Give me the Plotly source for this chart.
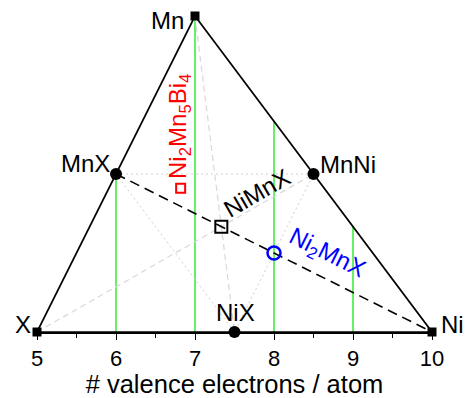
import plotly.graph_objects as go

# vertices: valence electron count (x) and Mn fraction (y)
vert_names = ["X", "Mn", "Ni"]
vert_x = [5, 7, 10]
vert_y = [0, 1, 0]

# binary compounds (edge midpoints)
bin_names = ["MnX", "MnNi", "NiX"]
bin_x = [6, 8.5, 7.5]
bin_y = [0.5, 0.5, 0]

# ternary compounds
tern_x = [22 / 3]          # NiMnX
tern_y = [1 / 3]
heusler_x = [8.0]          # Ni2MnX
heusler_y = [0.25]
nmb_x = [75 / 11]          # Ni2Mn5Bi4
nmb_y = [5 / 11]

# green vertical guides at integer electron counts
guide_x = [6, 7, 8, 9]
guide_top = [0.5, 1.0, 2 / 3, 1 / 3]

FONT = "Liberation Sans, Arial, Helvetica, sans-serif"
fig = go.Figure()

# green guides
for gx, gt in zip(guide_x, guide_top):
    fig.add_trace(go.Scatter(x=[gx, gx], y=[0, gt], mode="lines",
                             line=dict(color="#00e600", width=1.2), cliponaxis=False,
                             hoverinfo="skip"))

# medial triangle (dotted)
fig.add_trace(go.Scatter(x=[bin_x[0], bin_x[1], bin_x[2], bin_x[0]],
                         y=[bin_y[0], bin_y[1], bin_y[2], bin_y[0]], mode="lines",
                         line=dict(color="#d0d0d0", width=1, dash="2px,3px"), cliponaxis=False))
# gray dashed medians
fig.add_trace(go.Scatter(x=[vert_x[0], bin_x[1]], y=[vert_y[0], bin_y[1]], mode="lines",
                         line=dict(color="#d8d8d8", width=1.2, dash="6px,4px"), cliponaxis=False))
fig.add_trace(go.Scatter(x=[vert_x[1], bin_x[2]], y=[vert_y[1], bin_y[2]], mode="lines",
                         line=dict(color="#d8d8d8", width=1.2, dash="6px,4px"), cliponaxis=False))
# black dashed median MnX -> Ni
fig.add_trace(go.Scatter(x=[bin_x[0], vert_x[2]], y=[bin_y[0], vert_y[2]], mode="lines",
                         line=dict(color="black", width=1.6, dash="10px,6px"), cliponaxis=False))
# triangle edges
fig.add_trace(go.Scatter(x=vert_x + [vert_x[0]], y=vert_y + [vert_y[0]], mode="lines",
                         line=dict(color="black", width=1.7), cliponaxis=False))

# markers
fig.add_trace(go.Scatter(x=vert_x, y=vert_y, mode="markers",
                         marker=dict(symbol="square", size=9, color="black"), cliponaxis=False))
fig.add_trace(go.Scatter(x=bin_x, y=bin_y, mode="markers",
                         marker=dict(symbol="circle", size=12, color="black"), cliponaxis=False))
fig.add_trace(go.Scatter(x=tern_x, y=tern_y, mode="markers",
                         marker=dict(symbol="square-open", size=12, color="black",
                                     line=dict(width=2)), cliponaxis=False))
fig.add_trace(go.Scatter(x=heusler_x, y=heusler_y, mode="markers",
                         marker=dict(symbol="circle-open", size=13, color="blue",
                                     line=dict(width=2.5)), cliponaxis=False))
fig.add_trace(go.Scatter(x=nmb_x, y=nmb_y, mode="markers",
                         marker=dict(symbol="square-open", size=9, color="red",
                                     line=dict(width=2)), cliponaxis=False))

# labels: text, x, y, angle, colour, xanchor, xshift, yshift
labels = [
    ("Mn", 6.65, 0.987, 0, "black", "center", 0, 0),
    ("X", 5, 0, 0, "black", "right", -4, 8),
    ("Ni", 10, 0, 0, "black", "left", 7, 8),
    ("MnX", 5.61, 0.532, 0, "black", "center", 0, 0),
    ("MnNi", 8.94, 0.53, 0, "black", "center", 0, 0),
    ("NiX", 7.51, 0.063, 0, "black", "center", 0, 0),
    ("NiMnX", 7.79, 0.44, -30, "black", "center", 0, 0),
    ("Ni<sub>2</sub>MnX", 8.66, 0.247, 26.6, "blue", "center", 0, 0),
    ("Ni<sub>2</sub>Mn<sub>5</sub>Bi<sub>4</sub>", 6.81, 0.652, -90, "red", "center", 0, 0),
]
for txt, lx, ly, ang, col, xa, xs, ys in labels:
    fig.add_annotation(x=lx, y=ly, text=txt, showarrow=False, textangle=ang,
                       font=dict(family=FONT, size=24, color=col),
                       xanchor=xa, yanchor="middle", xshift=xs, yshift=ys)

fig.update_layout(
    width=466, height=398, showlegend=False,
    paper_bgcolor="white", plot_bgcolor="white",
    margin=dict(l=37, r=34, t=16, b=66, autoexpand=False),
    font=dict(family=FONT, color="black"),
    xaxis=dict(range=[5, 10], showgrid=False, zeroline=False, showline=True,
               automargin=False,
               linecolor="black", linewidth=1.5, ticks="outside", ticklen=6,
               tickwidth=1.3, tickcolor="black", dtick=1,
               tickfont=dict(size=22, family=FONT),
               minor=dict(dtick=0.5, ticks="outside", ticklen=4, tickcolor="black", tickwidth=1.3),
               title=dict(text="# valence electrons / atom", font=dict(size=25.5, family=FONT),
                          standoff=2)),
    yaxis=dict(range=[0, 1], visible=False),
)

fig.write_html("out.html", config={"displayModeBar": False},
               post_script="document.body.style.margin='0';document.body.style.overflow='hidden';")
